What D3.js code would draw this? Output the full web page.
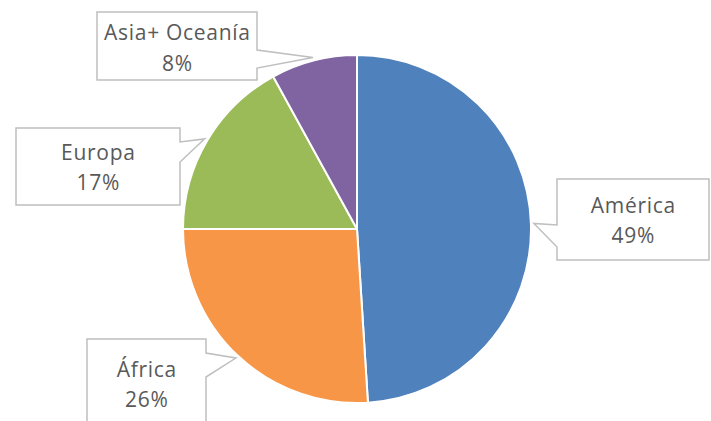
<!DOCTYPE html>
<html><head><meta charset="utf-8">
<script src="https://cdn.jsdelivr.net/npm/d3@7"></script>
<style>body{margin:0;background:#fff}svg{display:block}</style>
</head><body>
<svg id="c" width="711" height="421"></svg>
<script>
const categories = ["América", "África", "Europa", "Asia+ Oceanía"];
const values = [49, 26, 17, 8];
const colors = ["#4F81BD", "#F79646", "#9BBB59", "#8064A2"];

// callout layout (box rect, side of pointer, pointer base span, first text baseline)
const boxes = [
  {x: 557, y: 179, w: 152, h: 81, side: "left", b0: 225, b1: 247, base: 213},
  {x: 87, y: 339, w: 119, h: 90, side: "right", b0: 353, b1: 377, base: 377},
  {x: 16, y: 128, w: 164, h: 77, side: "right", b0: 142, b1: 162, base: 160},
  {x: 97, y: 12, w: 160, h: 68, side: "right", b0: 50, b1: 68, base: 40}
];

const svg = d3.select("#c");
const cx = 357, cy = 229, r = 174;
const total = d3.sum(values);
const pie = d3.pie().sort(null).value(d => d)(values);
const arc = d3.arc().innerRadius(0).outerRadius(r);
const g = svg.append("g").attr("transform", `translate(${cx},${cy})`);
g.selectAll("path").data(pie).join("path")
  .attr("d", arc).attr("fill", (d, i) => colors[i])
  .attr("stroke", "#fff").attr("stroke-width", 2).attr("stroke-linejoin", "round");

const fmt = d3.format(".0%");
pie.forEach((d, i) => {
  const b = boxes[i];
  const a = (d.startAngle + d.endAngle) / 2;
  const tx = cx + (r + 3) * Math.sin(a), ty = cy - (r + 3) * Math.cos(a);
  let pts;
  if (b.side === "left") {
    pts = [[b.x, b.y], [b.x + b.w, b.y], [b.x + b.w, b.y + b.h], [b.x, b.y + b.h], [b.x, b.b1], [tx, ty], [b.x, b.b0]];
  } else {
    const rx = b.x + b.w;
    pts = [[b.x, b.y], [rx, b.y], [rx, b.b0], [tx, ty], [rx, b.b1], [rx, b.y + b.h], [b.x, b.y + b.h]];
  }
  svg.append("path").attr("d", d3.line()(pts) + "Z")
    .attr("fill", "#fff").attr("stroke", "#BFBFBF").attr("stroke-width", 1.5);
  const t = svg.append("text").attr("text-anchor", "middle")
    .attr("font-family", "'Open Sans', sans-serif").attr("font-size", 21)
    .attr("letter-spacing", 0.7).attr("fill", "#595959");
  const mx = b.x + b.w / 2 + 0.35;
  t.append("tspan").attr("x", mx).attr("y", b.base).text(categories[i]);
  t.append("tspan").attr("x", mx).attr("y", b.base + (i === 3 ? 31 : 30)).text(fmt(d.data / total));
});
</script>
</body></html>
